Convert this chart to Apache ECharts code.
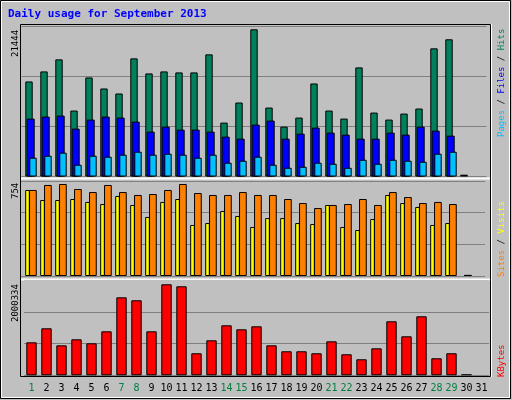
<!DOCTYPE html><html><head><meta charset="utf-8">
<script src="https://cdn.jsdelivr.net/npm/echarts@6/dist/echarts.min.js"></script>
<style>html,body{margin:0;padding:0;background:#c0c0c0}#c{width:512px;height:400px}</style></head><body><div id="c"></div>
<script>
const days = Array.from({length:31},(_,i)=>String(i+1));
const weekendDays = ['1','7','8','14','15','21','22','28','29'];
const hits  = [13845,15307,17062,9605,14430,12822,12091,17208,15015,15307,15161,15161,17792,7851,10775,21444,10044,7266,8582,13553,9605,8436,15892,9313,8290,9167,9898,18670,19985,0,null];
const files = [8436,8728,8874,6974,8290,8728,8582,7997,6535,7266,6828,6828,6535,5804,5512,7559,8143,5512,6243,7120,6389,6097,5512,5512,6389,6097,7266,6681,5950,null,null];
const pages = [2734,3026,3465,1711,3026,2880,3173,3611,3173,3319,3173,2734,3173,2003,2295,2880,1711,1272,1418,2003,1857,1272,2442,1857,2442,2295,2149,3319,3611,null,null];
const visits= [705,623,623,631,607,590,656,582,484,607,631,418,434,533,492,402,475,475,434,426,582,402,377,467,664,598,566,418,434,null,null];
const sites = [705,746,754,713,688,746,688,664,672,705,754,680,664,664,688,664,664,631,598,557,582,590,631,582,688,647,598,607,590,0,null];
const kbytes= [725000,1033000,659000,791000,703000,967000,1714000,1649000,967000,2000334,1956000,484000,769000,1099000,1011000,1077000,659000,528000,528000,484000,747000,462000,352000,593000,1187000,857000,1297000,374000,484000,0,null];
const yTop = '21444', yMid = '754', yBot = '2000334';

const panels = {top:{top:26.5,h:150,max:21850},mid:{top:181,h:95,max:778.6},bot:{top:280.3,h:95,max:2088000}};
const defs = [
 {p:'top',data:hits,color:'#00805C',off:-2,w:7.4},
 {p:'top',data:files,color:'#0000FF',off:-0.3,w:8},
 {p:'top',data:pages,color:'#00C0FF',off:2,w:7.4},
 {p:'mid',data:visits,color:'#FFFF00',off:-3.5,w:4.6},
 {p:'mid',data:sites,color:'#FF8000',off:1.9,w:7.7},
 {p:'bot',data:kbytes,color:'#FF0000',off:0.5,w:10.4}
];
const grid=[],xAxis=[],yAxis=[],series=[];
defs.forEach((d,i)=>{
  const P=panels[d.p];
  grid.push({left:23.5+d.off,width:465,top:P.top,height:P.h});
  const isLabel = i===5;
  xAxis.push({type:'category',gridIndex:i,data:days,axisLine:{show:false},axisTick:{show:false},
    axisLabel:{show:isLabel,interval:0,hideOverlap:false,margin:8,fontFamily:'DejaVu Sans Mono',fontSize:10,
      color:(v)=>weekendDays.includes(v)?'#008040':'#000'}});
  const first = (i===0||i===3||i===5);
  yAxis.push({type:'value',gridIndex:i,min:0,max:P.max,interval:P.max/3,axisLabel:{show:false},axisLine:{show:false},axisTick:{show:false},
    splitLine:{show:first,lineStyle:{color:'#808080',width:1}}});
  series.push({type:'bar',xAxisIndex:i,yAxisIndex:i,barWidth:d.w,z:10+i,animation:false,
    data:d.data.map((v,k)=> (v===0)?{value:P.max*0.012,itemStyle:{color:'#000',borderWidth:0}}:v),
    itemStyle:{color:d.color,borderColor:'#000',borderWidth:1}});
});
const mono='DejaVu Sans Mono';
const f9='9px '+mono;
const chart=echarts.init(document.getElementById('c'),null,{renderer:'canvas'});
chart.setOption({
 backgroundColor:'#c0c0c0',animation:false,grid,xAxis,yAxis,series,
 graphic:[
  {type:'rect',shape:{x:0.5,y:0.5,width:510,height:398},style:{fill:null,stroke:'#000',lineWidth:1},z:0},
  {type:'rect',shape:{x:1.5,y:1.5,width:508,height:396},style:{fill:null,stroke:'#fff',lineWidth:1},z:0},
  {type:'rect',shape:{x:20.5,y:24.5,width:470,height:352},style:{fill:null,stroke:'#000',lineWidth:1},z:20},
  {type:'line',shape:{x1:21,y1:178.5,x2:490,y2:178.5},style:{stroke:'#fff',lineWidth:2},z:20},
  {type:'line',shape:{x1:21,y1:279.5,x2:490,y2:279.5},style:{stroke:'#fff',lineWidth:2},z:20},
  {type:'line',shape:{x1:491.5,y1:24,x2:491.5,y2:377},style:{stroke:'#fff',lineWidth:1},z:20},
  {type:'text',left:8,top:9,style:{text:'Daily usage for September 2013',font:'bold 11px '+mono,fill:'#0000FF'},z:30},
  {type:'text',x:11,y:57,rotation:Math.PI/2,style:{text:yTop,font:f9,fill:'#000',textVerticalAlign:'top'},z:30},
  {type:'text',x:11,y:199,rotation:Math.PI/2,style:{text:yMid,font:f9,fill:'#000',textVerticalAlign:'top'},z:30},
  {type:'text',x:11,y:322,rotation:Math.PI/2,style:{text:yBot,font:f9,fill:'#000',textVerticalAlign:'top'},z:30},
  {type:'text',x:497,y:137,rotation:Math.PI/2,style:{text:'{a|Pages}{s| / }{b|Files}{s| / }{c|Hits}',font:f9,textVerticalAlign:'top',
    rich:{a:{fill:'#00C0FF',font:f9},b:{fill:'#0000FF',font:f9},c:{fill:'#00805C',font:f9},s:{fill:'#000',font:f9}}},z:30},
  {type:'text',x:497,y:277,rotation:Math.PI/2,style:{text:'{a|Sites}{s| / }{b|Visits}',font:f9,textVerticalAlign:'top',
    rich:{a:{fill:'#FF8000',font:f9},b:{fill:'#FFFF00',font:f9},s:{fill:'#000',font:f9}}},z:30},
  {type:'text',x:497,y:377,rotation:Math.PI/2,style:{text:'KBytes',font:f9,fill:'#FF0000',textVerticalAlign:'top'},z:30}
 ]
});
</script></body></html>
